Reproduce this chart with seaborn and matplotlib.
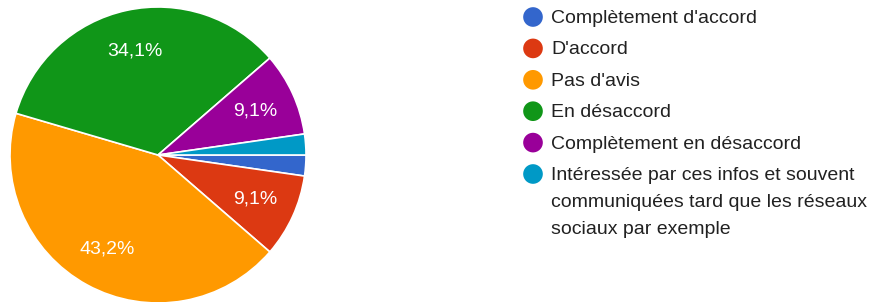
import numpy as np
import matplotlib
matplotlib.use("Agg")
import matplotlib.pyplot as plt
import seaborn as sns

# Survey answers (44 responses)
categories = [
    "Complètement d'accord",
    "D'accord",
    "Pas d'avis",
    "En désaccord",
    "Complètement en désaccord",
    "Intéressée par ces infos et souvent\ncommuniquées tard que les réseaux\nsociaux par exemple",
]
counts = [1, 4, 19, 15, 4, 1]
colors = ["#3366cc", "#dc3912", "#ff9900", "#109618", "#990099", "#0099c6"]

sns.set_theme(style="white")
plt.rcParams["font.family"] = ["Liberation Sans", "DejaVu Sans"]

W, H = 876, 302
fig = plt.figure(figsize=(W / 100, H / 100), dpi=100)

# Pie chart (center ~ (158, 155) px, radius ~148 px)
r = 148
cx, cy = 158, 155
ax = fig.add_axes([(cx - r) / W, (H - cy - r) / H, 2 * r / W, 2 * r / H])


def fmt(p):
    return f"{p:.1f}%".replace(".", ",") if p > 5 else ""


wedges, texts, autotexts = ax.pie(
    counts, colors=colors, startangle=0, counterclock=False,
    autopct=fmt, pctdistance=0.72,
    wedgeprops=dict(edgecolor="white", linewidth=1.2),
    textprops=dict(color="white", fontsize=14),
)
ax.set_xlim(-1, 1)
ax.set_ylim(-1, 1)
ax.set_aspect("equal")
ax.axis("off")

# Legend drawn in pixel coordinates
lax = fig.add_axes([0, 0, 1, 1])
lax.set_xlim(0, W)
lax.set_ylim(H, 0)
lax.axis("off")
row_y = 17 + 31.4 * np.arange(len(categories))
lax.scatter(np.full(len(categories), 533), row_y, s=200, c=colors, linewidths=0)
for y, lab in zip(row_y, categories):
    lax.text(551, y - 7, lab, fontsize=14, color="#212121",
             va="top", ha="left", linespacing=1.75)

fig.savefig("out.png", dpi=100)
